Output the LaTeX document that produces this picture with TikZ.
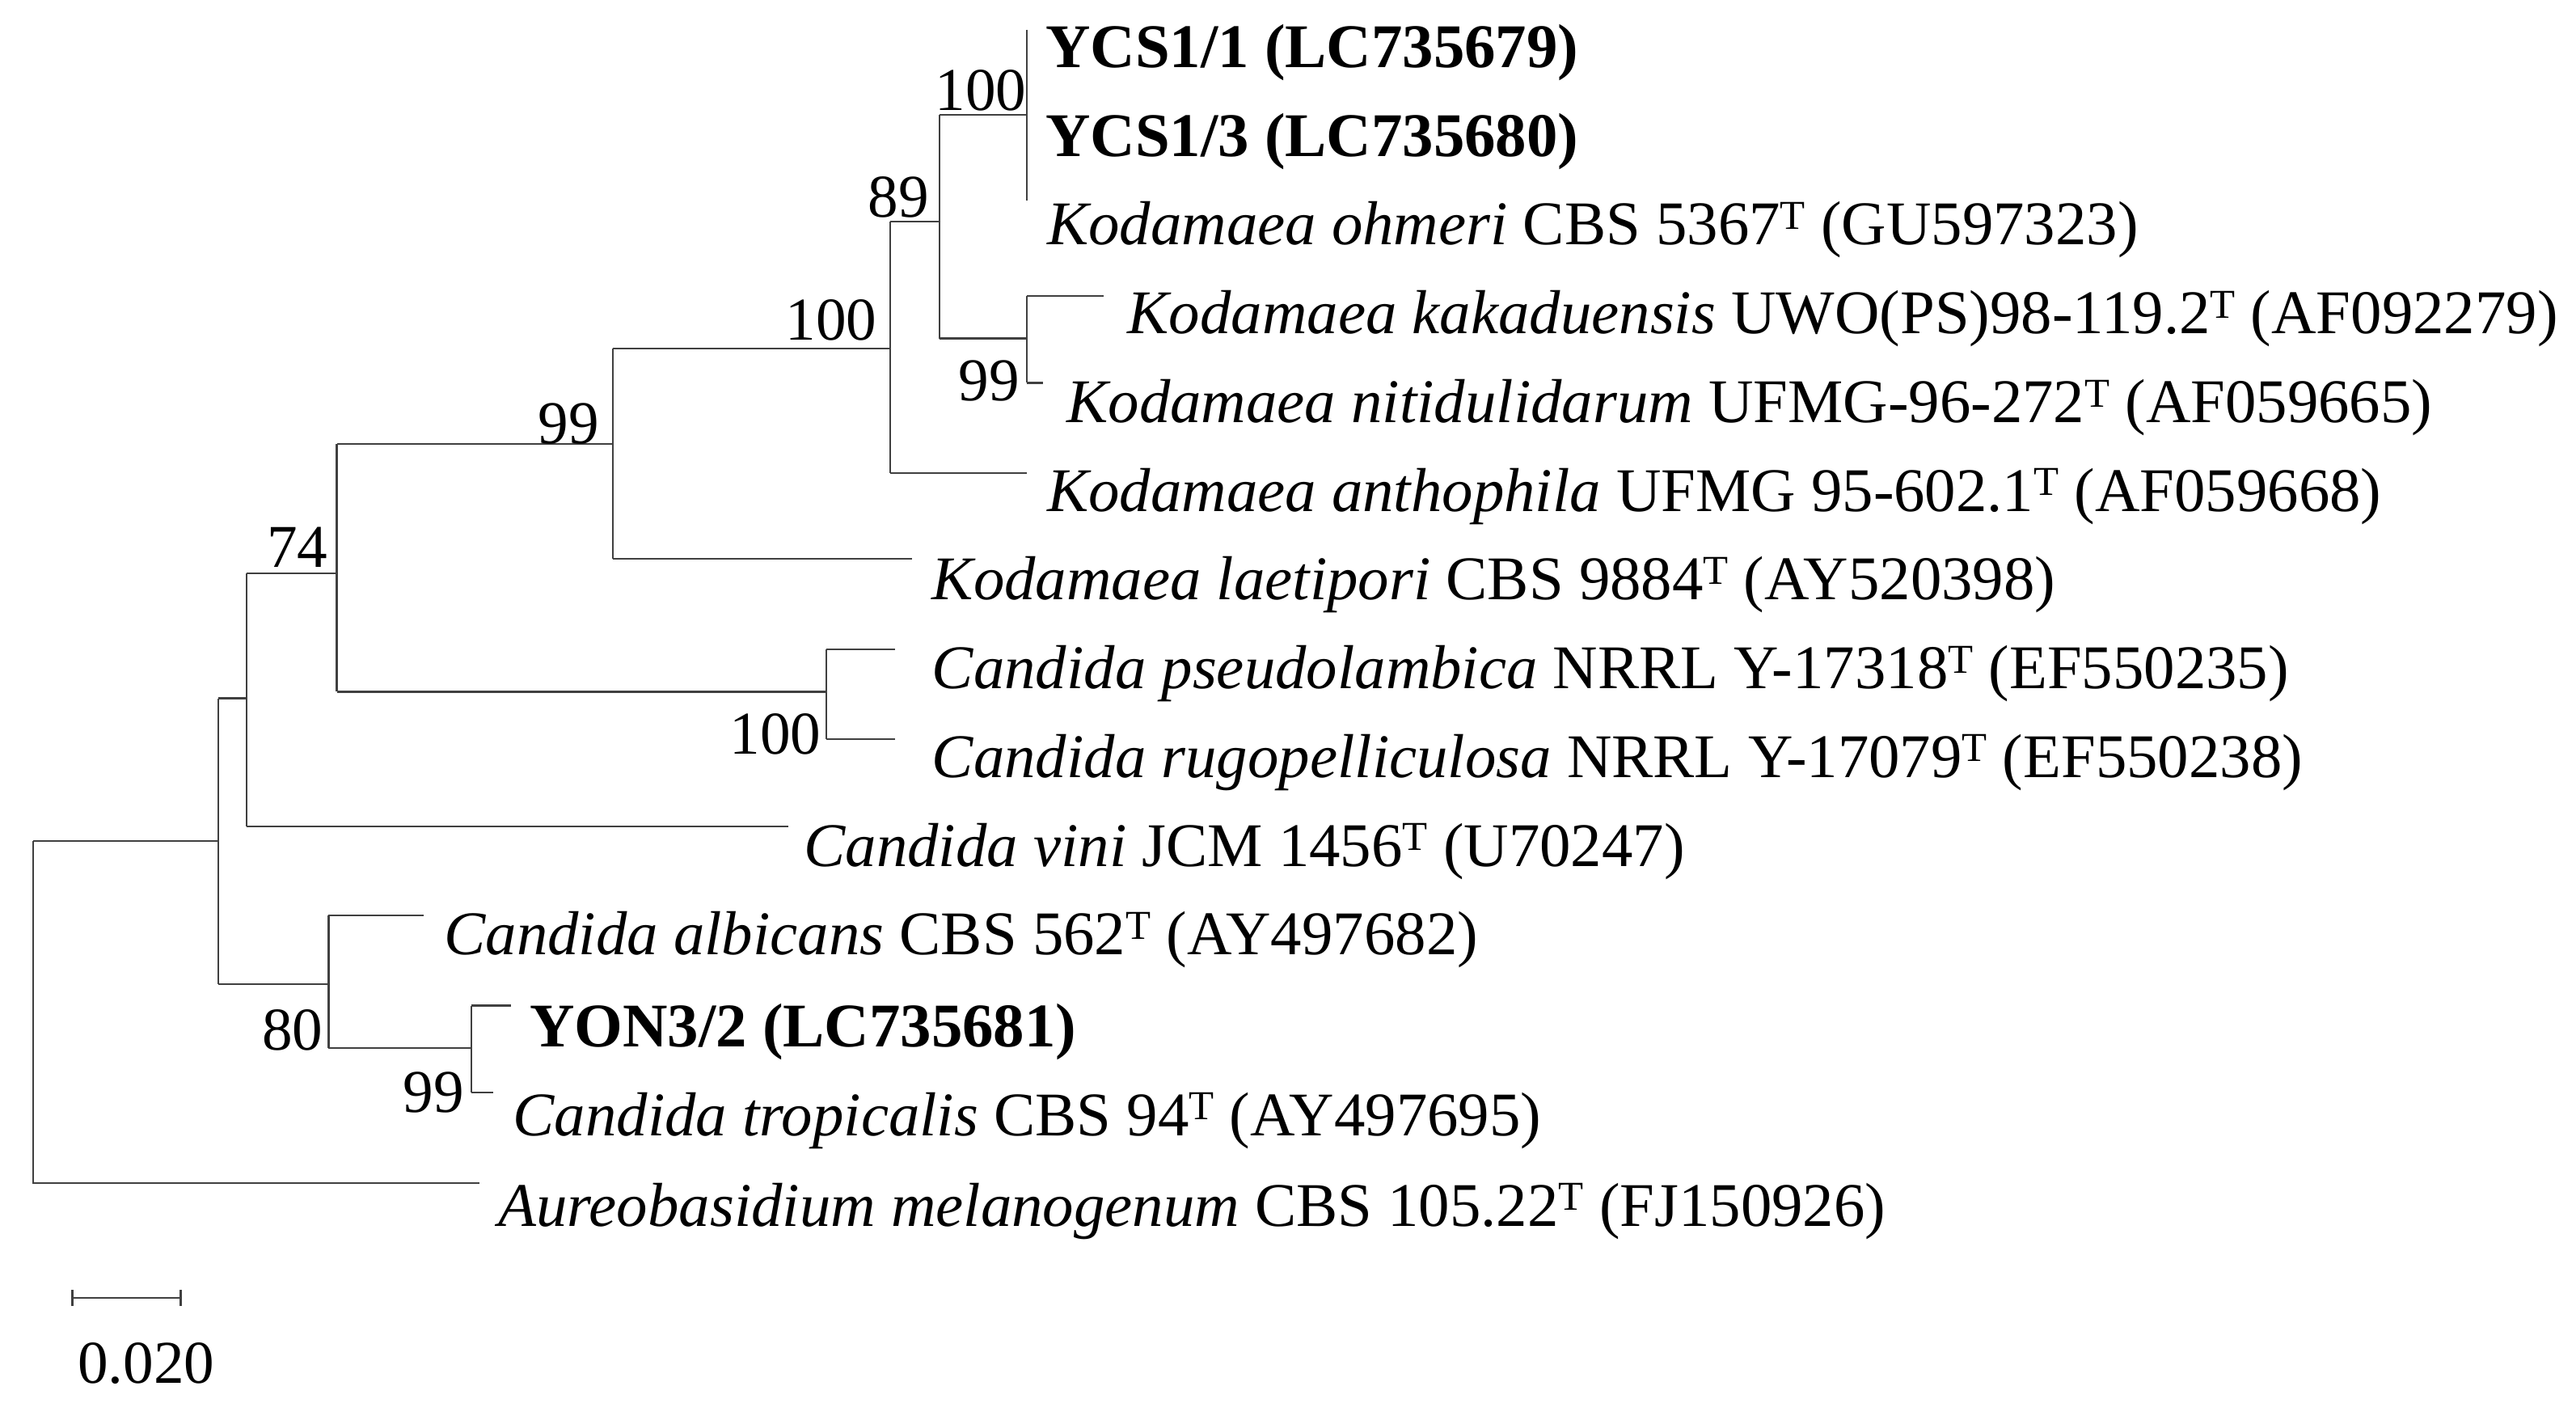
\documentclass[tikz,border=0pt]{standalone}
\usepackage{fontspec}
\setmainfont{Liberation Serif}
\newcommand{\Tsup}{\raisebox{0.55ex}{\fontsize{12.5}{13}\selectfont T}}
\begin{document}
\begin{tikzpicture}[x=0.5pt,y=-0.5pt,
  br/.style={draw=black!75,line width=0.55pt},
  leaf/.style={anchor=west,inner sep=0pt,font=\fontsize{18.9}{21}\selectfont},
  bs/.style={inner sep=0pt,font=\fontsize{18.5}{20}\selectfont}]
\useasboundingbox (0,0) rectangle (1568,864);
% leaves
\node[leaf] (l1) at (636,32) {\textbf{YCS1/1 (LC735679)}};
\node[leaf] (l2) at (636,86) {\textbf{YCS1/3 (LC735680)}};
\node[leaf] (l3) at (637,140) {\textit{Kodamaea ohmeri} CBS 5367\Tsup{} (GU597323)};
\node[leaf] (l4) at (686,194) {\textit{Kodamaea kakaduensis} UWO(PS)98-119.2\Tsup{} (AF092279)};
\node[leaf] (l5) at (649,248) {\textit{Kodamaea nitidulidarum} UFMG-96-272\Tsup{} (AF059665)};
\node[leaf] (l6) at (637,302) {\textit{Kodamaea anthophila} UFMG 95-602.1\Tsup{} (AF059668)};
\node[leaf] (l7) at (567,356) {\textit{Kodamaea laetipori} CBS 9884\Tsup{} (AY520398)};
\node[leaf] (l8) at (567,410) {\textit{Candida pseudolambica} NRRL Y-17318\Tsup{} (EF550235)};
\node[leaf] (l9) at (567,464) {\textit{Candida rugopelliculosa} NRRL Y-17079\Tsup{} (EF550238)};
\node[leaf] (l10) at (489,518) {\textit{Candida vini} JCM 1456\Tsup{} (U70247)};
\node[leaf] (l11) at (270,572) {\textit{Candida albicans} CBS 562\Tsup{} (AY497682)};
\node[leaf] (l12) at (322,628) {\textbf{YON3/2 (LC735681)}};
\node[leaf] (l13) at (312,682) {\textit{Candida tropicalis} CBS 94\Tsup{} (AY497695)};
\node[leaf] (l14) at (303,737) {\textit{Aureobasidium melanogenum} CBS 105.22\Tsup{} (FJ150926)};
% tree
\path[br] (20,512) |- (133,512) (20,512) |- (292,720);
\path[br] (133,425) -- (133,599) (133,425) -- (150,425) (133,599) -- (200,599);
\path[br] (150,349) -- (150,503) (150,349) -- (205,349) (150,503) -- (480,503);
\path[br] (200,557) -- (200,638) (200,557) -- (258,557) (200,638) -- (287,638);
\path[br] (287,612) -- (287,665) (287,612) -- (311,612) (287,665) -- (300,665);
\path[br] (205,270) -- (205,421) (205,270) -- (373,270) (205,421) -- (503,421);
\path[br] (503,395) -- (503,450) (503,395) -- (545,395) (503,450) -- (545,450);
\path[br] (373,212) -- (373,340) (373,212) -- (542,212) (373,340) -- (555,340);
\path[br] (542,135) -- (542,288) (542,135) -- (572,135) (542,288) -- (625,288);
\path[br] (572,70) -- (572,206) (572,70) -- (625,70) (572,206) -- (625,206);
\path[br] (625,18) -- (625,122);
\path[br] (625,180) -- (625,233) (625,180) -- (672,180) (625,233) -- (635,233);
% bootstrap
\node[bs] (b1) at (597,55) {100};
\node[bs] (b2) at (547,120) {89};
\node[bs] (b3) at (506,195) {100};
\node[bs] (b4) at (346,258) {99};
\node[bs] (b5) at (181,333) {74};
\node[bs] (b6) at (472,447) {100};
\node[bs] (b7) at (178,627) {80};
\node[bs] (b8) at (264,665) {99};
\node[bs] (b9) at (602,232) {99};
% scale
\coordinate (s1) at (44,790); \coordinate (s2) at (110,790);
\path[br] (s1) -- (s2) (44,785) -- (44,795) (110,785) -- (110,795);
\node[bs] (sc) at (89,830) {0.020};
\end{tikzpicture}
\end{document}
